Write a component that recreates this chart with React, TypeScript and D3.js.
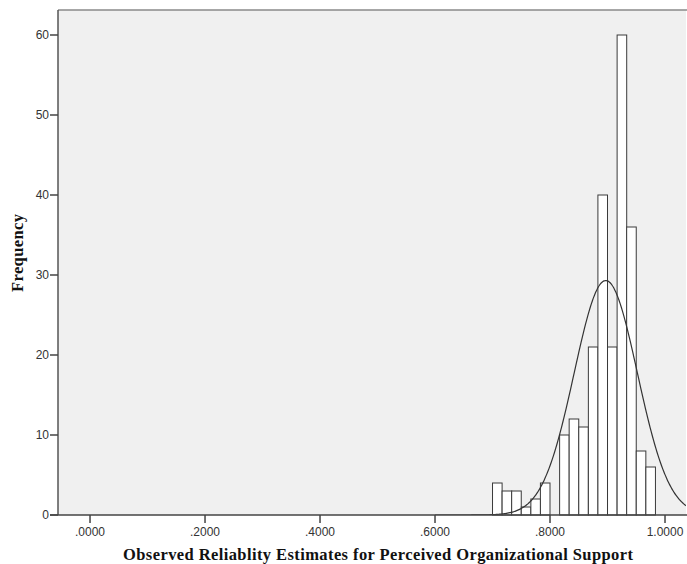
import React from "react"
import * as d3 from "d3"

// histogram bins (lower edge) and counts
const binStarts = [0.7, 0.7167, 0.7333, 0.75, 0.7667, 0.7833, 0.8, 0.8167, 0.8333, 0.85, 0.8667, 0.8833, 0.9, 0.9167, 0.9333, 0.95, 0.9667]
const counts = [4, 3, 3, 1, 2, 4, 0, 10, 12, 11, 21, 40, 21, 60, 36, 8, 6]
const binWidth = 1 / 60

// fitted normal curve parameters
const curveMean = 0.897
const curveSd = 0.0549
const totalN = 242

const xTicks = [0, 0.2, 0.4, 0.6, 0.8, 1.0]
const xTickLabels = [".0000", ".2000", ".4000", ".6000", ".8000", "1.0000"]
const yTicks = [0, 10, 20, 30, 40, 50, 60]

const width = 687
const height = 564
const plot = { left: 58, right: 686, top: 10, bottom: 515 }

const App = () => {
  const x = d3.scaleLinear().domain([-0.0557, 1.0365]).range([plot.left, plot.right])
  const y = d3.scaleLinear().domain([0, 63.125]).range([plot.bottom, plot.top])

  const pdf = (v: number) =>
    (totalN * binWidth) / (curveSd * Math.sqrt(2 * Math.PI)) *
    Math.exp(-0.5 * ((v - curveMean) / curveSd) ** 2)

  const curvePts = d3.range(0.6, 1.0365, 0.002).concat([1.0365])
  const line = d3
    .line<number>()
    .x(d => x(d))
    .y(d => y(pdf(d)))
    .curve(d3.curveBasis)

  const sans = "'Liberation Sans', Arial, sans-serif"
  const serif = "'Liberation Serif', 'Times New Roman', serif"

  return (
    <svg
      width={width}
      height={height}
      style={{ position: "absolute", left: 0, top: 0, background: "#fff" }}
    >
      <defs>
        <clipPath id="plotClip">
          <rect x={plot.left} y={plot.top} width={plot.right - plot.left} height={plot.bottom - plot.top} />
        </clipPath>
      </defs>
      <rect
        x={plot.left}
        y={plot.top}
        width={plot.right - plot.left}
        height={plot.bottom - plot.top}
        fill="#f0f0f0"
      />

      {/* bars */}
      <g fill="#fff" stroke="#3a3a3a" strokeWidth={1}>
        {counts.map((c, i) =>
          c > 0 ? (
            <rect
              key={i}
              x={x(binStarts[i])}
              y={y(c)}
              width={x(binStarts[i] + binWidth) - x(binStarts[i])}
              height={y(0) - y(c)}
            />
          ) : null
        )}
      </g>

      {/* normal curve */}
      <path
        d={line(curvePts) || ""}
        fill="none"
        stroke="#333"
        strokeWidth={1.2}
        clipPath="url(#plotClip)"
      />

      {/* frame */}
      <line x1={plot.left} x2={width} y1={plot.top} y2={plot.top} stroke="#8a8a8a" strokeWidth={1.5} />
      <line x1={plot.left} x2={plot.left} y1={plot.top} y2={plot.bottom} stroke="#555" strokeWidth={1.5} />
      <line x1={plot.left - 8} x2={width} y1={plot.bottom} y2={plot.bottom} stroke="#444" strokeWidth={1.5} />

      {/* y axis */}
      <g fontFamily={sans} fontSize={12} fill="#333">
        {yTicks.map(t => (
          <g key={t}>
            <line x1={plot.left - 8} x2={plot.left} y1={y(t)} y2={y(t)} stroke="#444" strokeWidth={1.5} />
            <text x={plot.left - 9} y={y(t)} dy="0.35em" textAnchor="end">
              {t}
            </text>
          </g>
        ))}
      </g>

      {/* x axis */}
      <g fontFamily={sans} fontSize={12} fill="#333">
        {xTicks.map((t, i) => (
          <g key={t}>
            <line x1={x(t)} x2={x(t)} y1={plot.bottom} y2={plot.bottom + 8} stroke="#444" strokeWidth={1.5} />
            <text x={x(t)} y={plot.bottom + 21} textAnchor="middle">
              {xTickLabels[i]}
            </text>
          </g>
        ))}
      </g>

      <text
        x={123}
        y={560}
        textLength={510}
        lengthAdjust="spacing"
        fontFamily={serif}
        fontWeight="bold"
        fontSize={16.5}
        fill="#111"
      >
        Observed Reliablity Estimates for Perceived Organizational Support
      </text>
      <text
        transform="translate(23,292) rotate(-90)"
        textLength={78}
        lengthAdjust="spacing"
        fontFamily={serif}
        fontWeight="bold"
        fontSize={16.5}
        fill="#111"
      >
        Frequency
      </text>
    </svg>
  )
}

export default App
